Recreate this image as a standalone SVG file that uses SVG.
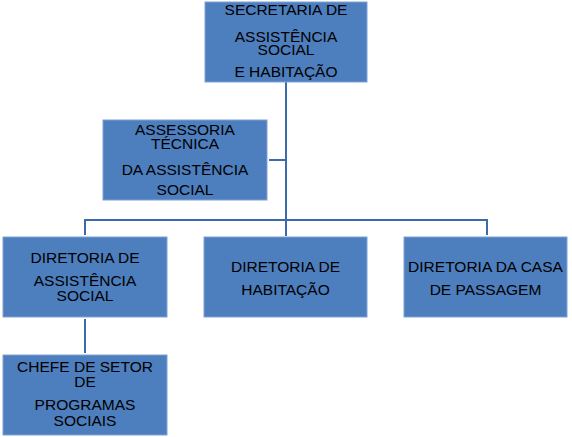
<svg xmlns="http://www.w3.org/2000/svg" width="572" height="437" viewBox="0 0 572 437">
<style>
.box{fill:#4D7EBD;stroke:#7FA3D4;stroke-width:1}
.t{font-family:"Liberation Sans",Arial,sans-serif;font-size:15.5px;fill:#000;text-anchor:middle}
.c{stroke:#3A6BAA;stroke-width:2;fill:none}
</style>
<rect width="572" height="437" fill="#fff"/>
<g id="connectors">
<path class="c" d="M286,82 V236"/>
<path class="c" d="M269,160 H286"/>
<path class="c" d="M85,235 V220 H487 V235"/>
<path class="c" d="M85,319 V353"/>
</g>
<g id="secretaria">
<rect class="box" x="205" y="2" width="162" height="80"/>
<text class="t" x="286" y="15">SECRETARIA DE</text>
<text class="t" x="286" y="42">ASSISTÊNCIA</text>
<text class="t" x="286" y="55">SOCIAL</text>
<text class="t" x="286" y="77">E HABITAÇÃO</text>
</g>
<g id="assessoria">
<rect class="box" x="103" y="120" width="164" height="80"/>
<text class="t" x="185" y="135">ASSESSORIA</text>
<text class="t" x="185" y="149">TÉCNICA</text>
<text class="t" x="185" y="175">DA ASSISTÊNCIA</text>
<text class="t" x="185" y="195">SOCIAL</text>
</g>
<g id="dir-assistencia">
<rect class="box" x="3" y="237" width="164" height="80"/>
<text class="t" x="85" y="263">DIRETORIA DE</text>
<text class="t" x="85" y="286">ASSISTÊNCIA</text>
<text class="t" x="85" y="301">SOCIAL</text>
</g>
<g id="dir-habitacao">
<rect class="box" x="204" y="237" width="163" height="80"/>
<text class="t" x="285.5" y="272">DIRETORIA DE</text>
<text class="t" x="285.5" y="295">HABITAÇÃO</text>
</g>
<g id="dir-casa">
<rect class="box" x="404" y="237" width="163" height="80"/>
<text class="t" x="485.5" y="272">DIRETORIA DA CASA</text>
<text class="t" x="485.5" y="295">DE PASSAGEM</text>
</g>
<g id="chefe">
<rect class="box" x="3" y="355" width="164" height="80"/>
<text class="t" x="85" y="372">CHEFE DE SETOR</text>
<text class="t" x="85" y="387">DE</text>
<text class="t" x="85" y="410">PROGRAMAS</text>
<text class="t" x="85" y="426">SOCIAIS</text>
</g>
</svg>
